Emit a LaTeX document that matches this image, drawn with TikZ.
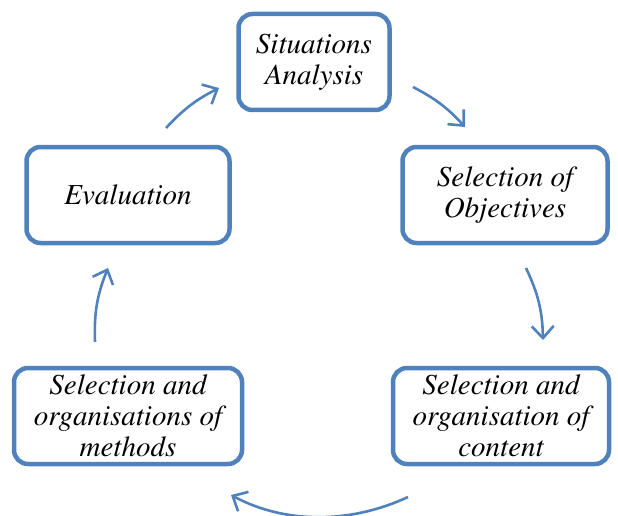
\documentclass[tikz,border=0pt]{standalone}
\usepackage[T1]{fontenc}
\usepackage{mathptmx}
\usepackage{tikz}
\usetikzlibrary{arrows.meta}
\definecolor{boxblue}{RGB}{79,129,189}
\tikzstyle{box}=[draw=boxblue, line width=4.5pt, rounded corners=14pt, fill=white, align=center, inner sep=0pt, minimum height=96pt, font=\rmfamily\itshape\fontsize{29}{31}\selectfont]
\tikzstyle{flow}=[draw=boxblue, line width=2.6pt, -{Straight Barb[length=12pt,width=22pt,line width=2.6pt]}]

\begin{document}
\begin{tikzpicture}[x=1pt, y=-1pt]
            \useasboundingbox (0,0) rectangle (618,516);
            \node [box, minimum width=151pt] (SA) at (314,62) {Situations\\Analysis};
            \node [box, minimum width=203pt] (EV) at (128,195) {Evaluation};
            \node [box, minimum width=205pt, right of=EV, node distance=377pt] (SO) {Selection of\\Objectives};
            \node [box, minimum width=228pt, below of=EV, node distance=221pt] (ME) {Selection and\\organisations of\\methods};
            \node [box, minimum width=216pt, right of=ME, node distance=373pt] (CO) {Selection and\\organisation of\\content};
            \coordinate (a1) at (166,128);  \coordinate (b1) at (219,88);
            \coordinate (a2) at (413,87);   \coordinate (b2) at (465,127);
            \coordinate (a3) at (526,268);  \coordinate (b3) at (543,340);
            \coordinate (a4) at (408,497);  \coordinate (b4) at (231,495);
            \coordinate (a5) at (95,342);   \coordinate (b5) at (108,268);
            \draw[flow] (a1) to[bend left=10] (b1);
            \draw[flow] (a2) to[bend left=10] (b2);
            \draw[flow] (a3) to[bend left=12] (b3);
            \draw[flow] (a4) .. controls (350,524) and (285,524) .. (b4);
            \draw[flow] (a5) to[bend left=12] (b5);
        \end{tikzpicture}
\end{document}
